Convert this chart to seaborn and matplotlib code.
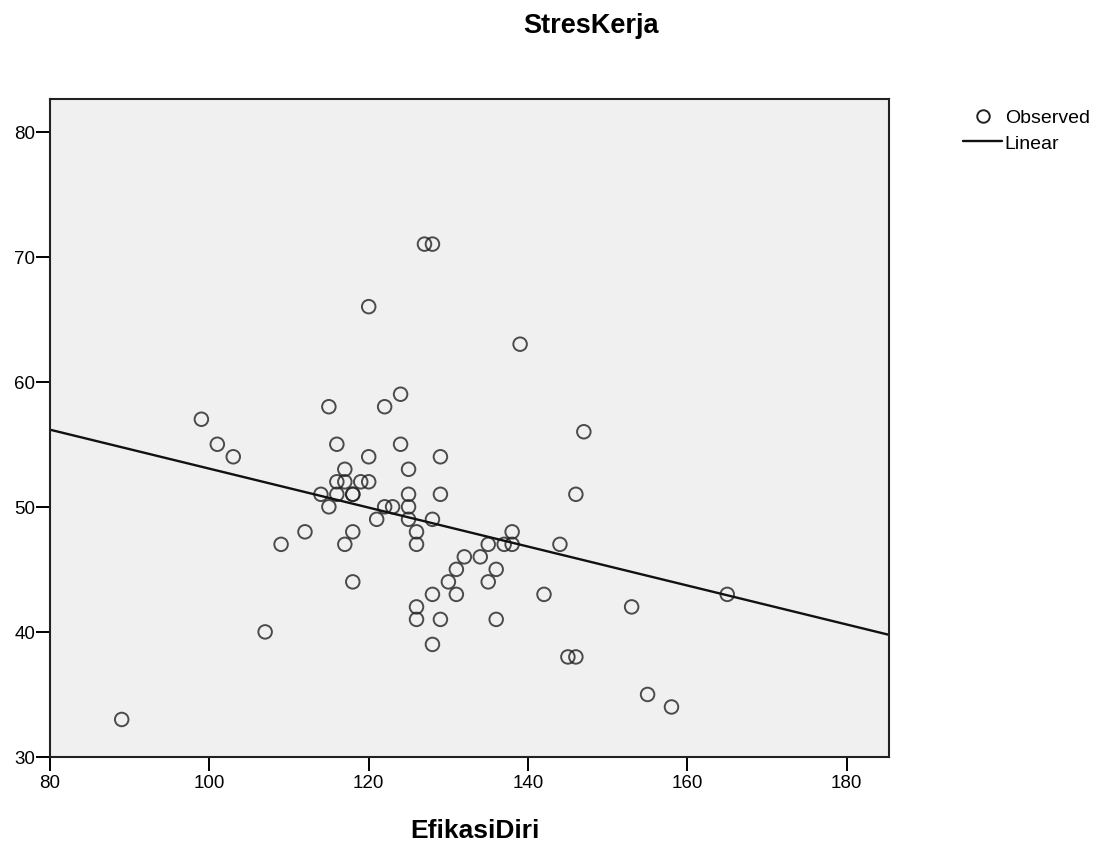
import pandas as pd
import seaborn as sns
import matplotlib.pyplot as plt
from matplotlib.lines import Line2D

# EfikasiDiri (x) and StresKerja (y)
efikasi_diri = [89, 99, 101, 103, 107, 109, 112, 114, 115, 115, 116, 116, 116,
                117, 117, 117, 118, 118, 118, 118, 119, 120, 120, 120, 121, 122,
                122, 123, 124, 124, 125, 125, 125, 125, 126, 126, 126, 126, 127,
                128, 128, 128, 128, 129, 129, 129, 130, 131, 131, 132, 134, 135,
                135, 136, 136, 137, 138, 138, 139, 142, 144, 145, 146, 146, 147,
                153, 155, 158, 165]
stres_kerja = [33, 57, 55, 54, 40, 47, 48, 51, 58, 50, 55, 52, 51,
               53, 52, 47, 51, 48, 44, 51, 52, 66, 54, 52, 49, 58,
               50, 50, 59, 55, 53, 51, 50, 49, 48, 47, 42, 41, 71,
               71, 49, 43, 39, 54, 51, 41, 44, 45, 43, 46, 46, 47,
               44, 45, 41, 47, 48, 47, 63, 43, 47, 38, 51, 38, 56,
               42, 35, 34, 43]

x_ticks = [80, 100, 120, 140, 160, 180]
y_ticks = [30, 40, 50, 60, 70, 80]

df = pd.DataFrame({'EfikasiDiri': efikasi_diri, 'StresKerja': stres_kerja})

sns.set_style('white')
plt.rcParams['font.family'] = ['Liberation Sans', 'DejaVu Sans']
plt.rcParams['text.color'] = 'black'
plt.rcParams['axes.labelcolor'] = 'black'

fig = plt.figure(figsize=(11.09, 8.45), dpi=100)
ax = fig.add_axes([50 / 1109, 1 - 758 / 845, 839 / 1109, 658 / 845])
ax.set_facecolor('#f0f0f0')
ax.set_xlim(80, 185.3)
ax.set_ylim(30, 82.6)

sns.regplot(data=df, x='EfikasiDiri', y='StresKerja', ax=ax, ci=None,
            truncate=False,
            scatter_kws={'s': 95, 'facecolors': 'none', 'edgecolors': '#222222',
                         'linewidths': 1.4, 'label': 'Observed'},
            line_kws={'color': '#111111', 'linewidth': 1.7, 'label': 'Linear'})

ax.set_xlim(80, 185.3)
ax.set_ylim(30, 82.6)
ax.set_xticks(x_ticks)
ax.set_yticks(y_ticks)
ax.tick_params(axis='both', direction='out', length=10, width=1.4,
               labelsize=13.5, colors='black', left=True, bottom=True)
ax.tick_params(axis='y', pad=0.5)
ax.tick_params(axis='x', pad=2)
for side in ['left', 'bottom', 'right', 'top']:
    ax.spines[side].set_color('#222222')
    ax.spines[side].set_linewidth(1.5)

ax.set_ylabel('')
ax.set_xlabel('EfikasiDiri', fontsize=19, fontweight='bold', va='baseline')
ax.xaxis.set_label_coords((475 - 50) / 839, -(838 - 758) / 658)

fig.text(591 / 1109, 1 - 33 / 845, 'StresKerja', fontsize=19.5, fontweight='bold',
         ha='center', va='baseline')

handles = [Line2D([], [], marker='o', linestyle='none', markerfacecolor='none',
                  markeredgecolor='#222222', markersize=9, markeredgewidth=1.4),
           Line2D([], [], color='#111111', linewidth=1.7)]
ax.legend(handles, ['Observed', 'Linear'], loc='upper left',
          bbox_to_anchor=(1.079, 0.997), frameon=False, fontsize=14,
          handlelength=2.0, handletextpad=0.15, labelspacing=0.4,
          borderaxespad=0)

fig.savefig('out.png', dpi=100)
